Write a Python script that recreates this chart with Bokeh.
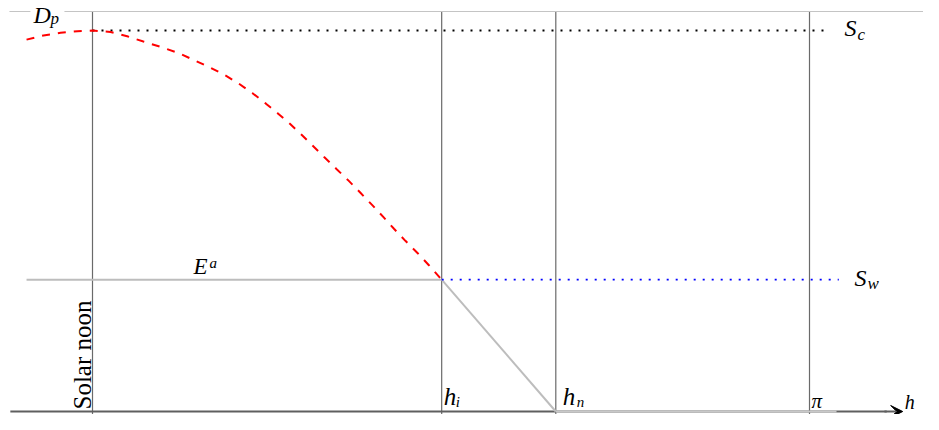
import math
from bokeh.plotting import figure
from bokeh.models import Label, Arrow, VeeHead
from bokeh.embed import file_html
from bokeh.resources import INLINE

# ---- data (hour angle in radians, irradiance normalised to S_c) ----
mark_names = ["Solar noon", "h_i", "h_n", "pi"]
mark_h = [0.0, 1.53, 2.03, math.pi]
S_c = 1.0
S_w = 0.346
curve_h = [-0.289, -0.215, -0.140, -0.066, 0.0, 0.079, 0.152, 0.223, 0.298, 0.372,
           0.435, 0.504, 0.574, 0.640, 0.700, 0.760, 0.815, 0.865, 0.915, 0.964,
           1.015, 1.070, 1.122, 1.174, 1.227, 1.275, 1.322, 1.371, 1.424, 1.474, 1.53]
curve_y = [0.976, 0.987, 0.994, 0.998, 1.0, 0.996, 0.985, 0.971, 0.957, 0.942,
           0.925, 0.906, 0.885, 0.861, 0.836, 0.808, 0.781, 0.755, 0.727, 0.698,
           0.668, 0.636, 0.606, 0.574, 0.541, 0.510, 0.479, 0.448, 0.416, 0.384, 0.346]

h_i = mark_h[1]
h_n = mark_h[2]

p = figure(width=923, height=414, output_backend="svg", toolbar_location=None,
           x_range=(-0.4031, 3.6411), y_range=(-0.00787, 1.07874), min_border=0)
p.axis.visible = False
p.grid.visible = False
p.outline_line_color = None
p.background_fill_color = "white"
p.border_fill_color = "white"

top = 1.0499
# vertical guide lines
p.segment(x0=mark_h, y0=[top] * 4, x1=mark_h, y1=[-0.05] * 4,
          line_color="#6a6a6a", line_width=1.2)
# top frame line (gap behind D_p)
p.line([-0.364, -0.272], [top, top], line_color="#c4c4c4", line_width=1)
p.line([-0.123, 3.8], [top, top], line_color="#c4c4c4", line_width=1)
# E^a line
p.line([-0.289, h_i], [S_w, S_w], line_color="#bdbdbd", line_width=2)
# horizontal axis
p.line([-0.360, 3.48], [0, 0], line_color="#5f5f5f", line_width=2)
# decline and night
p.line([h_i, h_n], [S_w, 0], line_color="#bdbdbd", line_width=2)
p.line([h_n, 3.26], [0, 0], line_color="#c8c8c8", line_width=2)
arrow = Arrow(end=VeeHead(size=12, fill_color="black", line_color="black"),
              x_start=3.47, y_start=0, x_end=3.55, y_end=0,
              line_color="#5f5f5f", line_width=2)
p.add_layout(arrow)
# dotted levels
p.line([0, 3.225], [S_c, S_c], line_color="black", line_width=1.8, line_dash="2 7")
p.line([h_i, 3.27], [S_w, S_w], line_color="#0000ff", line_width=1.8, line_dash="2 7")
# red curve
p.line(curve_h, curve_y, line_color="#ff0000", line_width=2, line_dash="8 8")

serif = "Liberation Serif"


def lab(x, y, text, dx, dy, size, style="italic", **kw):
    p.add_layout(Label(x=x, y=y, text=text, x_offset=dx, y_offset=dy,
                       text_font=serif, text_font_style=style,
                       text_font_size=f"{size}px", text_color="black",
                       text_baseline="alphabetic", **kw))


# D_p
lab(0, S_c, "D", -59, 16, 24)
lab(0, S_c, "p", -42, 12, 17)
# S_c
lab(math.pi, S_c, "S", 35, 3, 24)
lab(math.pi, S_c, "c", 48, -4, 17)
# S_w
lab(math.pi, S_w, "S", 45, 2, 24)
lab(math.pi, S_w, "w", 58, -4, 17)
# E^a
lab(0, S_w, "E", 101, 13, 23)
lab(0, S_w, "a", 117, 17, 15)
# h_i, h_n, pi, h
lab(h_i, 0, "h", 2, 15, 25)
lab(h_i, 0, "i", 14, 10, 15)
lab(h_n, 0, "h", 7, 15, 25)
lab(h_n, 0, "n", 21, 10, 15)
lab(math.pi, 0, "π", 2, 11, 21)
lab(3.55, 0, "h", 2, 10, 20)
# Solar noon
lab(0, 0, "Solar noon", -10, 2, 25, style="normal", angle=math.pi / 2, text_align="left")

open("out.html", "w").write(file_html(p, INLINE))
